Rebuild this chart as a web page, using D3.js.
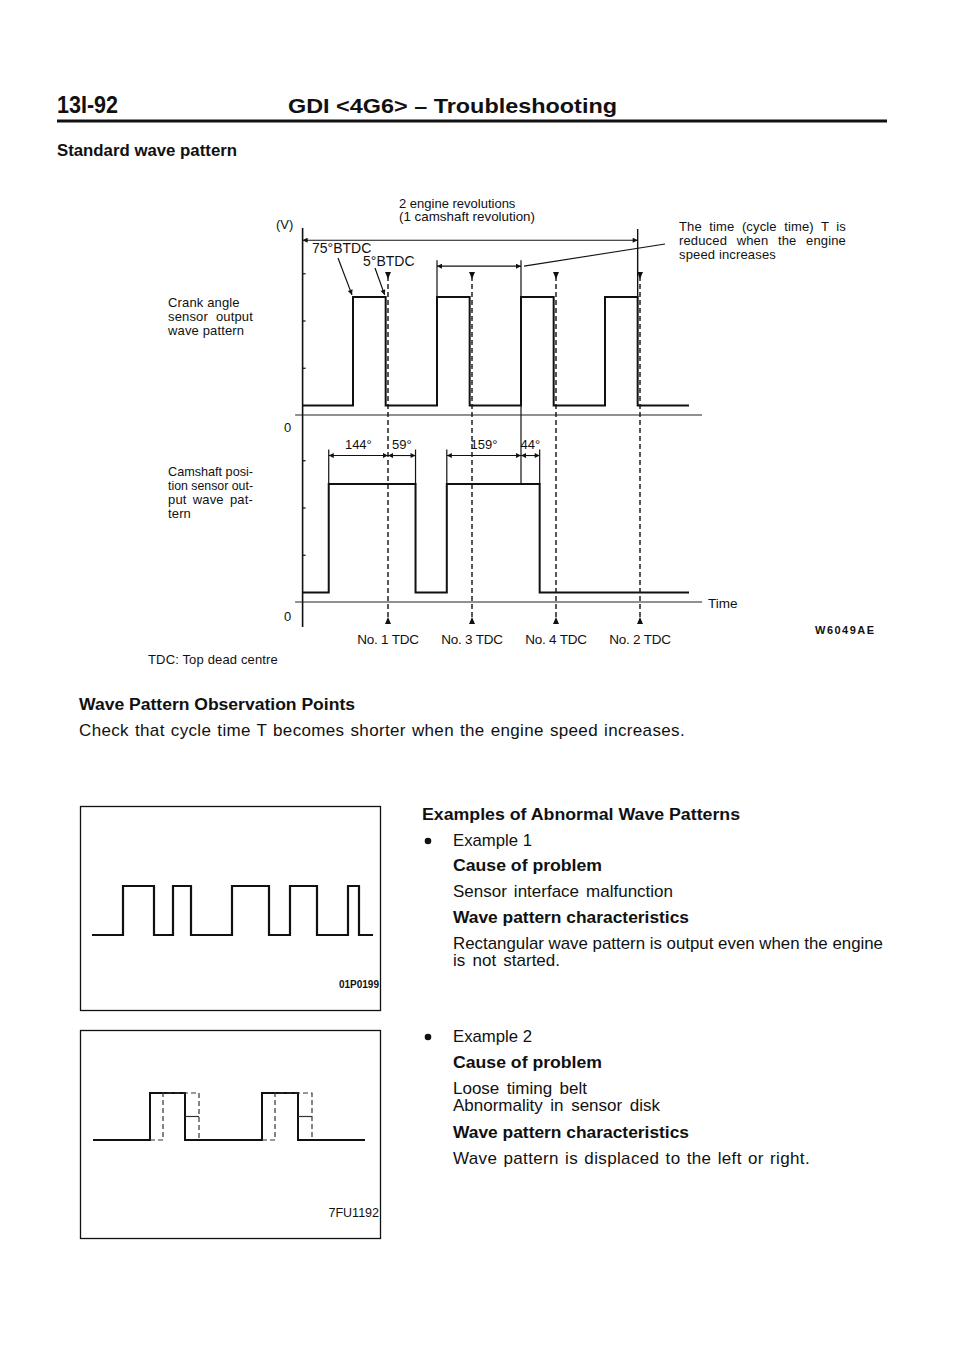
<!DOCTYPE html>
<html>
<head>
<meta charset="utf-8">
<script src="https://cdn.jsdelivr.net/npm/d3@7/dist/d3.min.js"></script>
<style>
  body { margin: 0; background: #fff; }
  svg text { font-family: "Liberation Sans", Arial, Helvetica, sans-serif; fill: #111; }
</style>
</head>
<body>
<div id="page"></div>
<script>
// ---- main diagram data (crank angle in degrees, 0 = No.1 TDC) ----
const waveStart = -183;
const waveEnd = 645;
const crankEdges = [-75, -5, 105, 175, 285, 355, 465, 535];   // rise / fall pairs
const camEdges = [-127, 59, 126, 325];
const tdcAngles = [0, 180, 360, 540];
const tdcLabels = ['No. 1 TDC', 'No. 3 TDC', 'No. 4 TDC', 'No. 2 TDC'];
const levelLow = 0.2;
const levelHigh = 2.5;
const voltTicks = [1, 2, 3];
const dimFrom = [-127, 0, 126, 285];
const dimTo = [0, 59, 285, 325];
const dimLabels = ['144°', '59°', '159°', '44°'];
const cycleFrom = 105, cycleTo = 285;      // cycle time T
const revFrom = waveStart, revTo = 535;    // 2 engine revolutions

// ---- abnormal examples (arbitrary time units) ----
const ex1Start = 12, ex1End = 293;
const ex1Edges = [43, 74, 93, 111, 152, 189, 210, 237, 268, 279];
const ex2Start = 13, ex2End = 285;
const ex2Edges = [70, 105, 182, 218];
const ex2Shifted = [83, 119, 195, 232];

const W = 960, H = 1358;
const svg = d3.select('#page').append('svg').attr('width', W).attr('height', H);

const defs = svg.append('defs');
defs.append('marker').attr('id', 'arr').attr('viewBox', '0 0 10 10')
  .attr('refX', 10).attr('refY', 5).attr('markerWidth', 7).attr('markerHeight', 5)
  .attr('markerUnits', 'userSpaceOnUse').attr('orient', 'auto-start-reverse')
  .append('path').attr('d', 'M0,0L10,5L0,10z').attr('fill', '#111');

function stepPoints(start, end, edges, lo, hi) {
  let pts = [[start, lo]], lvl = lo;
  edges.forEach(e => {
    pts.push([e, lvl]);
    lvl = lvl === lo ? hi : lo;
    pts.push([e, lvl]);
  });
  pts.push([end, lvl]);
  return pts;
}

function txt(x, y, s, size, opts) {
  opts = opts || {};
  const t = svg.append('text').attr('x', x).attr('y', y).text(s)
    .attr('font-size', size)
    .attr('font-weight', opts.bold ? 'bold' : 'normal');
  if (opts.anchor) t.attr('text-anchor', opts.anchor);
  if (opts.len) t.attr('textLength', opts.len).attr('lengthAdjust', 'spacingAndGlyphs');
  if (opts.ls) t.attr('letter-spacing', opts.ls);
  if (opts.just) {
    // justify by widening the gaps between words, squeeze if too long
    let w = t.node().getComputedTextLength();
    if (w > opts.just) {
      t.attr('letter-spacing', null);
      w = t.node().getComputedTextLength();
    }
    const gaps = (s.match(/ /g) || []).length;
    if (w > opts.just) t.attr('textLength', opts.just).attr('lengthAdjust', 'spacingAndGlyphs');
    else if (gaps) t.attr('word-spacing', (opts.just - w) / gaps);
  }
  return t;
}
const body = (x, y, s, just) => txt(x, y, s, 17, {ls: 0.35, just: just});
const small = (x, y, s, just) => txt(x, y, s, 13, {ls: 0.15, just: just});

// ---- header ----
txt(57, 113, '13I-92', 23, {bold: true, len: 61});
txt(288, 113, 'GDI <4G6> – Troubleshooting', 21, {bold: true, len: 329});
svg.append('rect').attr('x', 57).attr('y', 119.5).attr('width', 830).attr('height', 3).attr('fill', '#111');
txt(57, 156, 'Standard wave pattern', 16, {bold: true, len: 180});

// ---- main diagram scales ----
const x = d3.scaleLinear().domain([0, 180]).range([388, 472]);
const yCrank = d3.scaleLinear().domain([0, 4]).range([415, 226]);
const yCam = d3.scaleLinear().domain([0, 4]).range([602, 413]);
const line = d3.line().x(d => x(d[0])).y(d => d[1]);

const g = svg.append('g');
const ax = x(waveStart);

// vertical axis
g.append('line').attr('x1', ax).attr('x2', ax).attr('y1', 228).attr('y2', 627)
  .attr('stroke', '#111').attr('stroke-width', 1.6);
[yCrank, yCam].forEach(ys => {
  const a = g.append('g').attr('transform', `translate(${ax},0)`)
    .call(d3.axisRight(ys).tickValues(voltTicks).tickSize(3).tickFormat(''));
  a.select('.domain').remove();
  a.selectAll('line').attr('stroke', '#111').attr('stroke-width', 1.2);
  // zero baseline
  g.append('line').attr('x1', x(-199)).attr('x2', x(673))
    .attr('y1', ys(0)).attr('y2', ys(0)).attr('stroke', '#222').attr('stroke-width', 1.2);
});

// waveforms
g.append('path').datum(stepPoints(waveStart, waveEnd, crankEdges, yCrank(levelLow), yCrank(levelHigh)))
  .attr('d', line).attr('fill', 'none').attr('stroke', '#111').attr('stroke-width', 2);
g.append('path').datum(stepPoints(waveStart, waveEnd, camEdges, yCam(levelLow), yCam(levelHigh)))
  .attr('d', line).attr('fill', 'none').attr('stroke', '#111').attr('stroke-width', 2);

// TDC dashed markers
const tdc = g.selectAll('.tdc').data(tdcAngles).join('g').attr('class', 'tdc');
tdc.append('line').attr('x1', d => x(d)).attr('x2', d => x(d)).attr('y1', 276).attr('y2', 620)
  .attr('stroke', '#111').attr('stroke-width', 1.4).attr('stroke-dasharray', '5,3');
tdc.append('path').attr('d', d => `M${x(d) - 3},272L${x(d) + 3},272L${x(d)},279z`).attr('fill', '#111');
tdc.append('path').attr('d', d => `M${x(d) - 3},624L${x(d) + 3},624L${x(d)},617z`).attr('fill', '#111');
tdc.append('text').attr('x', d => x(d)).attr('y', 644).attr('text-anchor', 'middle')
  .attr('font-size', 13.5).attr('letter-spacing', -0.2).text((d, i) => tdcLabels[i]);

// 2 engine revolutions arrow
const yRev = yCrank(3.7);
g.append('line').attr('x1', x(revFrom)).attr('x2', x(revTo)).attr('y1', yRev).attr('y2', yRev)
  .attr('stroke', '#111').attr('stroke-width', 1.1)
  .attr('marker-start', 'url(#arr)').attr('marker-end', 'url(#arr)');
g.append('line').attr('x1', x(revTo)).attr('x2', x(revTo)).attr('y1', 229).attr('y2', yCrank(levelHigh))
  .attr('stroke', '#111').attr('stroke-width', 1.4);
txt(399, 208, '2 engine revolutions', 13);
txt(399, 221, '(1 camshaft revolution)', 13, {len: 136});

// cycle time T arrow
const yT = yCrank(3.15);
[cycleFrom, cycleTo].forEach(a => {
  g.append('line').attr('x1', x(a)).attr('x2', x(a)).attr('y1', yT - 6).attr('y2', yCrank(levelHigh))
    .attr('stroke', '#111').attr('stroke-width', 1.2);
});
g.append('line').attr('x1', x(cycleFrom)).attr('x2', x(cycleTo)).attr('y1', yT).attr('y2', yT)
  .attr('stroke', '#111').attr('stroke-width', 1.1)
  .attr('marker-start', 'url(#arr)').attr('marker-end', 'url(#arr)');
g.append('line').attr('x1', x(cycleTo) + 3).attr('x2', 665).attr('y1', yT).attr('y2', 244)
  .attr('stroke', '#111').attr('stroke-width', 1.1);
small(679, 231, 'The time (cycle time) T is', 167);
small(679, 245, 'reduced when the engine', 167);
small(679, 259, 'speed increases');

// BTDC labels
txt(312, 253, '75°BTDC', 14);
txt(363, 266, '5°BTDC', 14);
g.append('line').attr('x1', 338).attr('y1', 258).attr('x2', x(-75) - 1).attr('y2', yCrank(levelHigh) - 2)
  .attr('stroke', '#111').attr('stroke-width', 1.2).attr('marker-end', 'url(#arr)');
g.append('line').attr('x1', 375).attr('y1', 268).attr('x2', x(-5) - 1).attr('y2', yCrank(levelHigh) - 2)
  .attr('stroke', '#111').attr('stroke-width', 1.2).attr('marker-end', 'url(#arr)');

// cam dimension lines
const yDim = yCam(3.1);
dimFrom.forEach((a, i) => {
  const b = dimTo[i];
  g.append('line').attr('x1', x(a)).attr('x2', x(b)).attr('y1', yDim).attr('y2', yDim)
    .attr('stroke', '#111').attr('stroke-width', 1.1)
    .attr('marker-start', 'url(#arr)').attr('marker-end', 'url(#arr)');
  txt((x(a) + x(b)) / 2, yDim - 7, dimLabels[i], 13, {anchor: 'middle'});
});
// extension lines
[-127, 59, 126, 325].forEach(a => {
  g.append('line').attr('x1', x(a)).attr('x2', x(a)).attr('y1', yDim - 6).attr('y2', yCam(levelHigh))
    .attr('stroke', '#111').attr('stroke-width', 1.2);
});
g.append('line').attr('x1', x(285)).attr('x2', x(285)).attr('y1', yCrank(levelLow)).attr('y2', yCam(levelHigh))
  .attr('stroke', '#111').attr('stroke-width', 1.2);

// axis texts
txt(276, 229, '(V)', 13);
txt(284, 432, '0', 13);
txt(284, 621, '0', 13);
txt(708, 608, 'Time', 13.5);
small(168, 307, 'Crank angle');
small(168, 321, 'sensor output', 85);
small(168, 335, 'wave pattern');
small(168, 476, 'Camshaft posi-', 85);
small(168, 490, 'tion sensor out-', 85);
small(168, 504, 'put wave pat-', 85);
small(168, 518, 'tern');
small(148, 664, 'TDC: Top dead centre');
txt(815, 634, 'W6049AE', 11, {bold: true, ls: 1.5});

// ---- observation points ----
txt(79, 710, 'Wave Pattern Observation Points', 16, {bold: true, len: 276});
body(79, 736, 'Check that cycle time T becomes shorter when the engine speed increases.', 606);

// ---- example boxes ----
function exampleBox(top, height, build) {
  svg.append('rect').attr('x', 80.5).attr('y', top + 0.5).attr('width', 300).attr('height', height)
    .attr('fill', 'none').attr('stroke', '#111').attr('stroke-width', 1.3);
  build(d3.scaleLinear().domain([0, 300]).range([80, 380]));
}

exampleBox(806, 204, ex => {
  const ey = d3.scaleLinear().domain([0, 1]).range([935, 886]);
  svg.append('path').datum(stepPoints(ex1Start, ex1End, ex1Edges, 0, 1))
    .attr('d', d3.line().x(d => ex(d[0])).y(d => ey(d[1])))
    .attr('fill', 'none').attr('stroke', '#111').attr('stroke-width', 2.2);
  txt(379, 988, '01P0199', 10, {bold: true, anchor: 'end'});
});

exampleBox(1030, 208, ex => {
  const ey = d3.scaleLinear().domain([0, 1]).range([1140, 1093]);
  const l = d3.line().x(d => ex(d[0])).y(d => ey(d[1]));
  svg.append('path').datum(stepPoints(ex2Start, ex2End, ex2Edges, 0, 1))
    .attr('d', l).attr('fill', 'none').attr('stroke', '#111').attr('stroke-width', 2);
  for (let i = 0; i < ex2Shifted.length; i += 2) {
    const pts = [[ex2Edges[i], 0], [ex2Shifted[i], 0], [ex2Shifted[i], 1], [ex2Shifted[i + 1], 1], [ex2Shifted[i + 1], 0]];
    svg.append('path').datum(pts).attr('d', l).attr('fill', 'none')
      .attr('stroke', '#333').attr('stroke-width', 1.2).attr('stroke-dasharray', '5,3');
    svg.append('path').datum([[ex2Edges[i + 1], 0.5], [ex2Shifted[i + 1], 0.5]]).attr('d', l)
      .attr('fill', 'none').attr('stroke', '#333').attr('stroke-width', 1.2);
  }
  txt(379, 1217, '7FU1192', 12.5, {anchor: 'end'});
});

// ---- right column text ----
txt(422, 820, 'Examples of Abnormal Wave Patterns', 16, {bold: true, len: 318});
svg.append('circle').attr('cx', 428).attr('cy', 841).attr('r', 3.3).attr('fill', '#111');
body(453, 846, 'Example 1', 79);
txt(453, 871, 'Cause of problem', 16, {bold: true, len: 149});
body(453, 897, 'Sensor interface malfunction', 220);
txt(453, 923, 'Wave pattern characteristics', 16, {bold: true, len: 236});
body(453, 949, 'Rectangular wave pattern is output even when the engine', 430);
body(453, 966, 'is not started.', 107);

svg.append('circle').attr('cx', 428).attr('cy', 1037).attr('r', 3.3).attr('fill', '#111');
body(453, 1042, 'Example 2', 79);
txt(453, 1068, 'Cause of problem', 16, {bold: true, len: 149});
body(453, 1094, 'Loose timing belt', 134);
body(453, 1111, 'Abnormality in sensor disk', 207);
txt(453, 1138, 'Wave pattern characteristics', 16, {bold: true, len: 236});
body(453, 1164, 'Wave pattern is displaced to the left or right.', 357);
</script>
</body>
</html>
